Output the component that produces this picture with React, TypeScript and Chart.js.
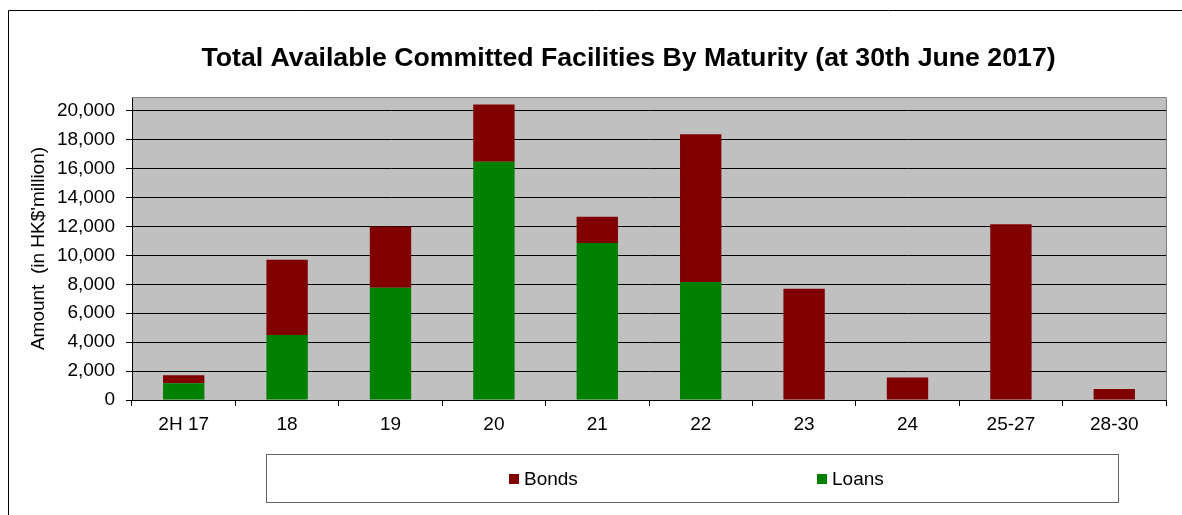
import React, { useEffect, useRef } from 'react';
import { Chart, registerables } from 'chart.js';

Chart.register(...registerables);

const categories = ['2H 17', '18', '19', '20', '21', '22', '23', '24', '25-27', '28-30'];
const loans = [1150, 4500, 7770, 16480, 10860, 8160, 0, 0, 0, 0];
const bonds = [560, 5200, 4230, 3960, 1810, 10210, 7700, 1550, 12150, 760];
const yTicks = [0, 2000, 4000, 6000, 8000, 10000, 12000, 14000, 16000, 18000, 20000];
const yMax = 20950;
const titleText = 'Total Available Committed Facilities By Maturity (at 30th June 2017)';
const yAxisTitle = "Amount  (in HK$'million)";

const FONT = "'Liberation Sans', Arial, sans-serif";

const framePlugin = {
  id: 'framePlugin',
  afterLayout(chart: any) {
    const t = chart.titleBlock;
    if (t) {
      t.left = 91;
      t.right = 1166;
      t.width = t.right - t.left;
    }
  },
  beforeDraw(chart: any) {
    const { ctx, chartArea } = chart;
    ctx.save();
    ctx.strokeStyle = '#000';
    ctx.lineWidth = 1;
    ctx.beginPath();
    ctx.moveTo(8.5, 515);
    ctx.lineTo(8.5, 10.5);
    ctx.lineTo(1182, 10.5);
    ctx.stroke();
    ctx.fillStyle = '#C0C0C0';
    ctx.fillRect(chartArea.left, chartArea.top, chartArea.right - chartArea.left, chartArea.bottom - chartArea.top);
    ctx.restore();
  },
  afterDraw(chart: any) {
    const { ctx, chartArea } = chart;
    ctx.save();
    ctx.strokeStyle = '#808080';
    ctx.lineWidth = 1;
    ctx.beginPath();
    ctx.moveTo(chartArea.left, Math.round(chartArea.top) + 0.5);
    ctx.lineTo(Math.round(chartArea.right) + 0.5, Math.round(chartArea.top) + 0.5);
    ctx.lineTo(Math.round(chartArea.right) + 0.5, chartArea.bottom);
    ctx.stroke();

    const bx = 266.5, by = 454.5, bw = 852, bh = 48;
    ctx.fillStyle = '#fff';
    ctx.fillRect(bx, by, bw, bh);
    ctx.strokeStyle = '#666';
    ctx.strokeRect(bx, by, bw, bh);

    const items = [...chart.data.datasets].reverse();
    const starts = [509, 817];
    ctx.font = `19px ${FONT}`;
    ctx.textBaseline = 'middle';
    ctx.textAlign = 'left';
    items.forEach((ds: any, i: number) => {
      const x = starts[i];
      ctx.fillStyle = ds.backgroundColor;
      ctx.fillRect(x, 474, 10, 10);
      ctx.fillStyle = '#000';
      ctx.fillText(ds.label, x + 15, 480);
    });
    ctx.restore();
  },
};

export default function App() {
  const ref = useRef<HTMLCanvasElement | null>(null);

  useEffect(() => {
    if (!ref.current) return;
    const chart = new Chart(ref.current, {
      type: 'bar',
      data: {
        labels: categories,
        datasets: [
          {
            label: 'Loans',
            data: loans,
            backgroundColor: '#008000',
            borderWidth: 0,
            barPercentage: 0.4,
            categoryPercentage: 1,
          },
          {
            label: 'Bonds',
            data: bonds,
            backgroundColor: '#800000',
            borderWidth: 0,
            barPercentage: 0.4,
            categoryPercentage: 1,
          },
        ],
      },
      options: {
        responsive: false,
        animation: false,
        devicePixelRatio: 1,
        layout: { padding: { left: 0, right: 16, top: 0, bottom: 79 } },
        plugins: {
          legend: { display: false },
          tooltip: { enabled: false },
          title: {
            display: true,
            text: titleText,
            color: '#000',
            font: { family: FONT, size: 26.7, weight: 'bold', lineHeight: 1.2 },
            padding: { top: 43, bottom: 22 },
          },
        },
        scales: {
          x: {
            stacked: true,
            offset: true,
            afterFit: (scale: any) => {
              scale.height = 36;
            },
            grid: {
              display: true,
              drawOnChartArea: false,
              drawTicks: true,
              tickLength: 6,
              color: '#000',
              offset: true,
            },
            border: { display: true, color: '#000', width: 1 },
            ticks: {
              color: '#000',
              padding: 7,
              font: { family: FONT, size: 19 },
              maxRotation: 0,
              autoSkip: false,
            },
          },
          y: {
            stacked: true,
            min: 0,
            max: yMax,
            afterBuildTicks: (scale: any) => {
              scale.ticks = yTicks.map((v) => ({ value: v }));
            },
            afterFit: (scale: any) => {
              scale.width = 132;
            },
            grid: {
              color: '#000',
              lineWidth: 1,
              drawTicks: true,
              tickLength: 6,
            },
            border: { display: true, color: '#000', width: 1 },
            ticks: {
              color: '#000',
              padding: 11,
              font: { family: FONT, size: 19 },
              callback: (v: any) => Number(v).toLocaleString('en-US'),
            },
            title: {
              display: true,
              text: yAxisTitle,
              color: '#000',
              font: { family: FONT, size: 19 },
              padding: { top: 27, bottom: 0 },
            },
          },
        },
      },
      plugins: [framePlugin],
    });
    return () => chart.destroy();
  }, []);

  return (
    <div style={{ position: 'fixed', left: 0, top: 0, width: 1182, height: 515, background: '#fff' }}>
      <canvas ref={ref} width={1182} height={515} style={{ display: 'block', width: 1182, height: 515 }} />
    </div>
  );
}
